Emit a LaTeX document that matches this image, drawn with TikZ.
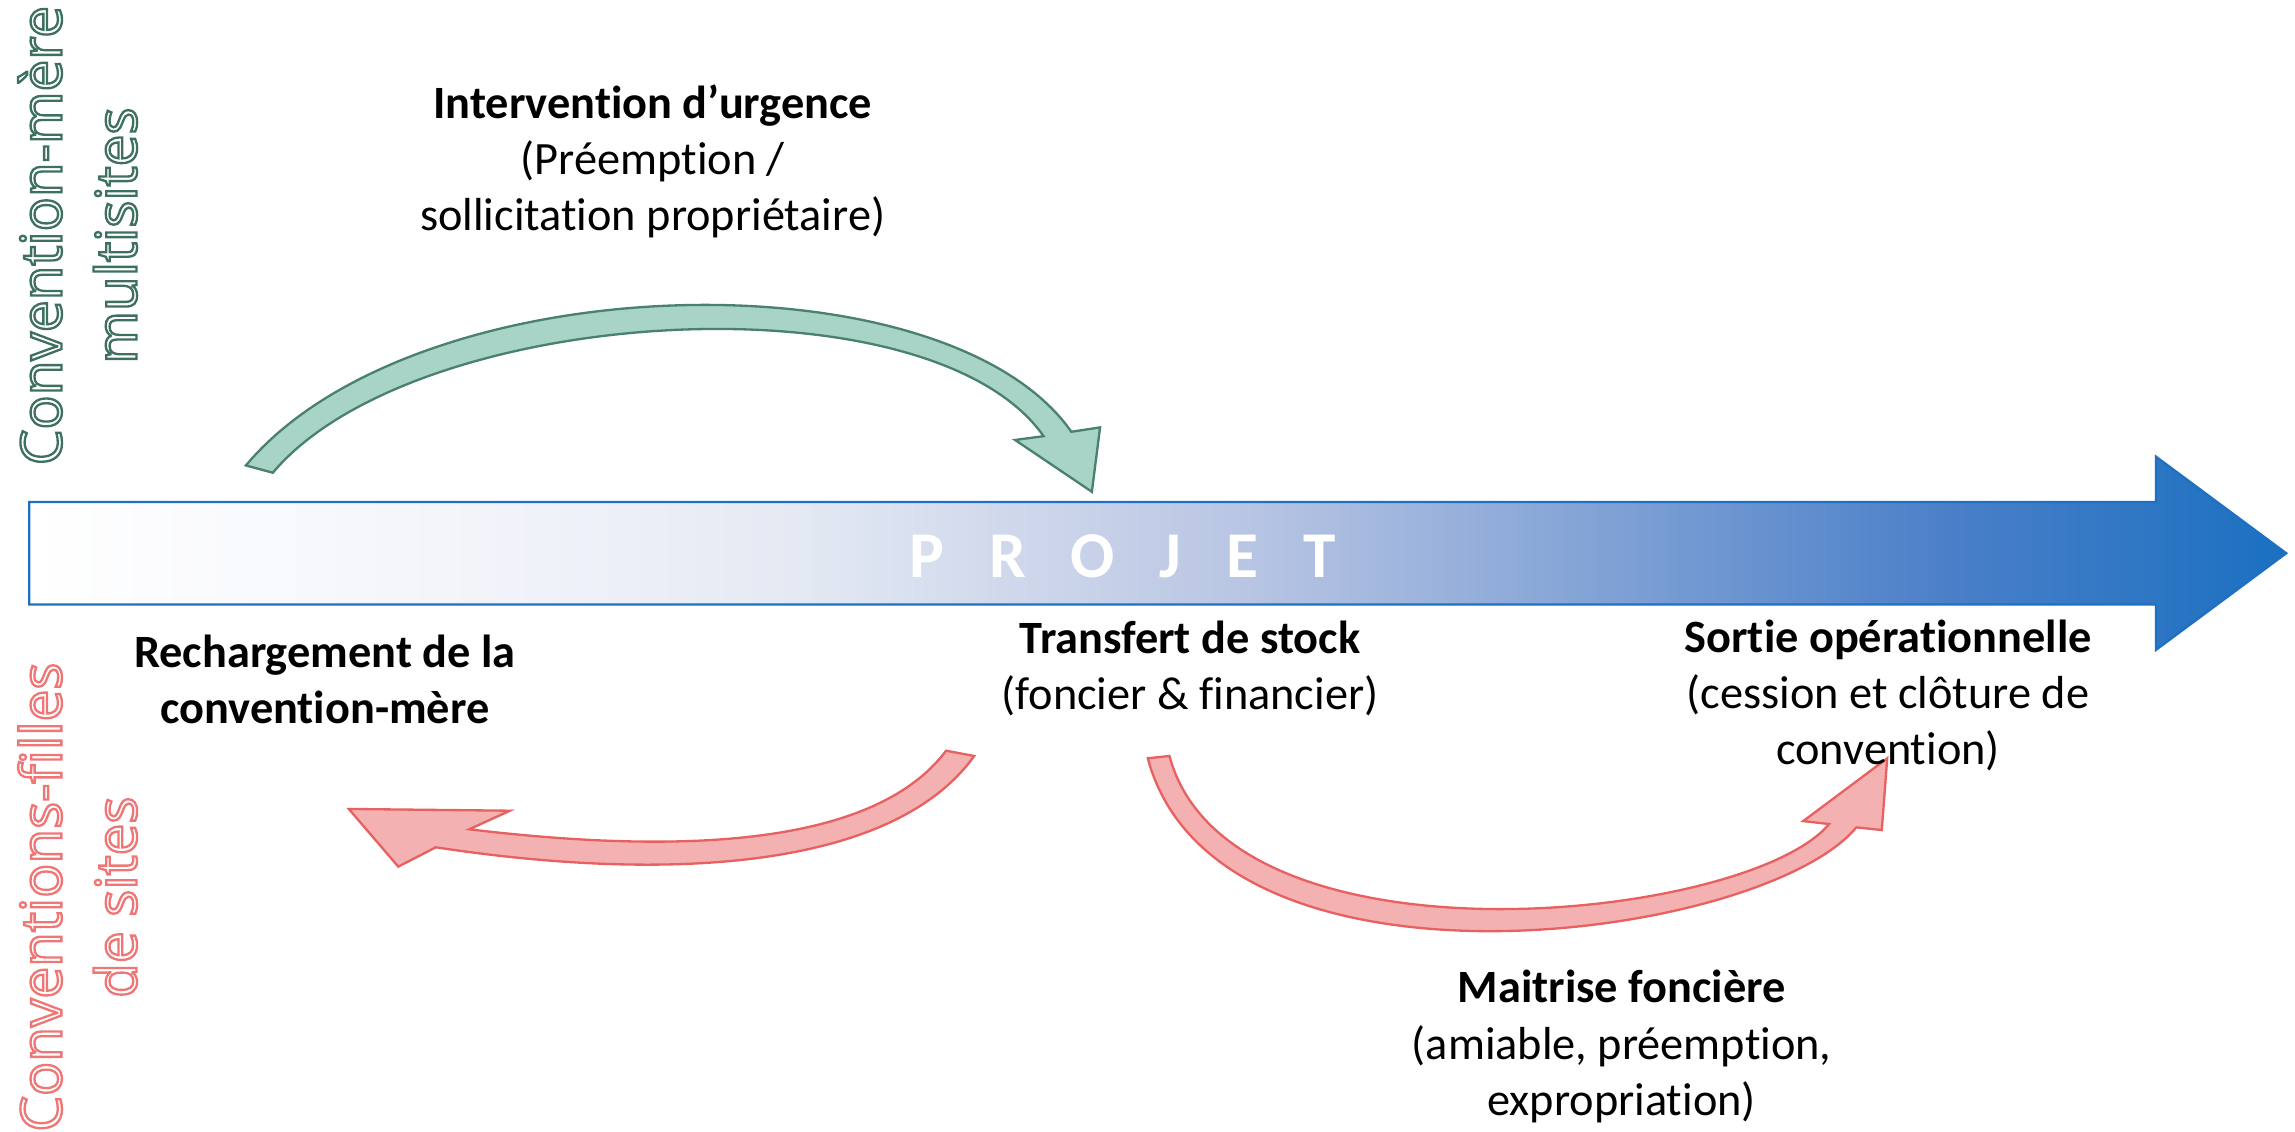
\documentclass[tikz,border=0pt]{standalone}
\usepackage{fontspec}
\setmainfont{Carlito}[Ligatures=NoCommon]
\newfontfamily\osans{Open Sans}
\definecolor{greenfill}{RGB}{168,211,199}
\definecolor{greenline}{RGB}{74,128,112}
\definecolor{pinkfill}{RGB}{244,177,177}
\definecolor{pinkline}{RGB}{232,96,96}
\definecolor{blueline}{RGB}{31,112,193}
\definecolor{lblgreen}{RGB}{62,112,94}
\definecolor{lblpink}{RGB}{240,118,118}
\definecolor{sA}{RGB}{242,244,250}
\definecolor{sB}{RGB}{228,233,243}
\definecolor{sC}{RGB}{184,197,227}
\definecolor{sD}{RGB}{74,127,200}
\definecolor{sE}{RGB}{26,112,193}
\pgfdeclarehorizontalshading{projshade}{100bp}{color(0bp)=(white); color(25bp)=(white); color(35bp)=(sA); color(42bp)=(sB); color(52bp)=(sC); color(67.6bp)=(sD); color(75bp)=(sE); color(100bp)=(sE)}
\newcommand{\outl}[1]{\special{pdf:literal direct 1 Tr 0.45 w}#1\special{pdf:literal direct 0 Tr}}
\begin{document}
\begin{tikzpicture}[x=0.01cm,y=-0.01cm,
  txt/.style={align=center,font=\fontsize{9}{10.9}\selectfont,inner sep=0pt},
  greenarrow/.style={fill=greenfill,draw=greenline,line width=0.45pt,line join=miter},
  pinkarrow/.style={fill=pinkfill,draw=pinkline,line width=0.45pt,line join=miter},
  sidelbl/.style={rotate=90,align=center,inner sep=0pt,font=\osans\fontsize{11}{14.6}\selectfont}]
\useasboundingbox (0,0) rectangle (1568,773);
% main arrow
\draw[shading=projshade,draw=blueline,line width=0.45pt] (20,343) -- (1473,343) -- (1473,312) -- (1562,378) -- (1473,444) -- (1473,413) -- (20,413) -- cycle;
\node[inner sep=0pt,text=white,font=\bfseries\fontsize{12.7}{15}\selectfont] (projet) at (767,380) {\spaceskip=8.7pt P R O J E T};
% green arrow
\draw[greenarrow] (168,318) .. controls (283.7,180.1) and (646,172) .. (732,295) -- (751.6,292) -- (746,336) -- (693.5,300.6) -- (713,298) .. controls (634.9,186.6) and (282.9,208.1) .. (186.4,323) -- cycle;
% pink left arrow
\draw[pinkarrow] (646.4,512.9) .. controls (598.4,576.9) and (470.6,584.6) .. (320.6,566.6) -- (348.4,553.9) -- (238.3,552.7) -- (272.1,592.1) -- (297.8,578.9) .. controls (462.8,604) and (611.6,592) .. (665.6,516.5) -- cycle;
% pink right arrow
\draw[pinkarrow] (784.2,518.1) .. controls (831,692.7) and (1204,642.7) .. (1268.3,565.3) -- (1285.7,567.1) -- (1289.4,518.1) -- (1232,561) -- (1249.7,563) .. controls (1194.5,629.5) and (839.3,666.9) .. (799,516.5) -- cycle;
% texts
\node[txt] (urg) at (446,110) {\textbf{Intervention d’urgence}\\(Préemption /\\sollicitation propriétaire)};
\node[txt] (rech) at (222,464) {\textbf{Rechargement de la}\\\textbf{convention-mère}};
\node[txt] (transf) at (813,457) {\textbf{Transfert de stock}\\(foncier \& financier)};
\node[txt] (sortie) at (1290,475) {\textbf{Sortie opérationnelle}\\(cession et clôture de\\convention)};
\node[txt] (maitr) at (1108,715) {\textbf{Maitrise foncière}\\(amiable, préemption,\\expropriation)};
% side labels
\node[sidelbl,text=lblgreen] (mere) at (53,161) {\outl{Convention-mère}\\\outl{multisites}};
\node[sidelbl,text=lblpink] (filles) at (53,613) {\outl{Conventions-filles}\\\outl{de sites}};
\end{tikzpicture}
\end{document}
